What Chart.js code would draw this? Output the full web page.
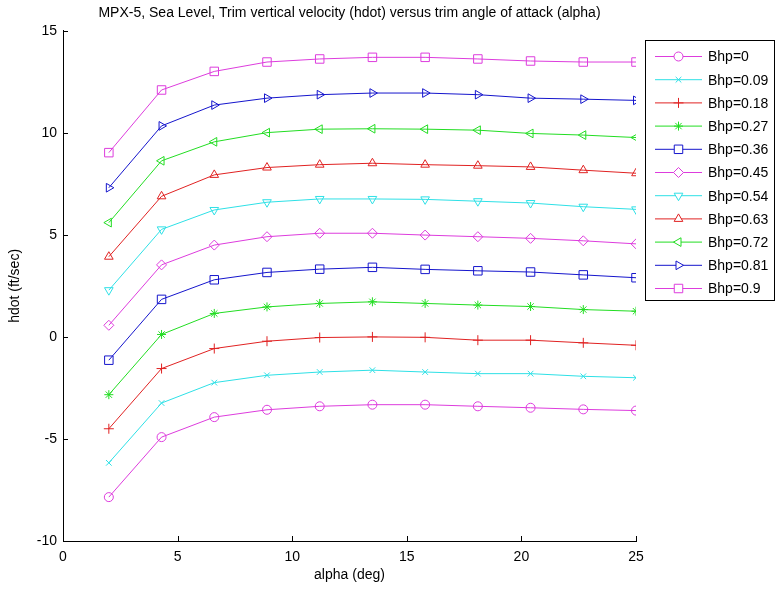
<!DOCTYPE html>
<html>
<head>
<meta charset="utf-8">
<script src="https://cdn.jsdelivr.net/npm/chart.js@4/dist/chart.umd.min.js"></script>
<style>
  html, body { margin: 0; padding: 0; background: #fff; }
  #wrap { width: 776px; height: 592px; }
</style>
</head>
<body>
<div id="wrap"><canvas id="hdotChart" width="776" height="592"></canvas></div>
<script>
// trim angle of attack (deg)
const alpha = [2, 4.3, 6.6, 8.9, 11.2, 13.5, 15.8, 18.1, 20.4, 22.7, 25];

const bhpLabels = ['Bhp=0', 'Bhp=0.09', 'Bhp=0.18', 'Bhp=0.27', 'Bhp=0.36', 'Bhp=0.45',
    'Bhp=0.54', 'Bhp=0.63', 'Bhp=0.72', 'Bhp=0.81', 'Bhp=0.9'];

// hdot (ft/sec), one list per power setting
const hdot000 = [-7.85, -4.91, -3.93, -3.57, -3.40, -3.32, -3.32, -3.40, -3.47, -3.55, -3.61];
const hdot009 = [-6.17, -3.24, -2.24, -1.88, -1.72, -1.63, -1.72, -1.80, -1.80, -1.93, -2.00];
const hdot018 = [-4.50, -1.55, -0.57, -0.21, -0.03, 0.00, -0.02, -0.16, -0.16, -0.29, -0.41];
const hdot027 = [-2.83, 0.12, 1.15, 1.47, 1.64, 1.72, 1.64, 1.56, 1.49, 1.34, 1.26];
const hdot036 = [-1.14, 1.84, 2.80, 3.16, 3.32, 3.41, 3.31, 3.24, 3.18, 3.04, 2.90];
const hdot045 = [0.57, 3.53, 4.50, 4.91, 5.08, 5.08, 4.99, 4.91, 4.83, 4.71, 4.56];
const hdot054 = [2.29, 5.27, 6.22, 6.60, 6.76, 6.76, 6.74, 6.65, 6.56, 6.38, 6.25];
const hdot063 = [3.93, 6.89, 7.94, 8.30, 8.44, 8.51, 8.44, 8.39, 8.33, 8.17, 8.02];
const hdot072 = [5.60, 8.63, 9.56, 10.01, 10.18, 10.20, 10.18, 10.13, 9.97, 9.89, 9.77];
const hdot081 = [7.31, 10.34, 11.36, 11.70, 11.87, 11.95, 11.95, 11.87, 11.70, 11.65, 11.59];
const hdot090 = [9.03, 12.10, 13.01, 13.47, 13.62, 13.70, 13.70, 13.62, 13.52, 13.47, 13.47];

const xTicks = [0, 5, 10, 15, 20, 25];
const yTicks = [-10, -5, 0, 5, 10, 15];

const MAG = '#dd3cdd', CYA = '#2ee0e6', RED = '#e02222', GRN = '#22dd22', BLU = '#1515cc';

const seriesStyle = [
    { color: MAG, marker: 'circle', radius: 4.5, rot: 0 },
    { color: CYA, marker: 'crossRot', radius: 4, rot: 0 },
    { color: RED, marker: 'cross', radius: 5, rot: 0 },
    { color: GRN, marker: 'star', radius: 4.5, rot: 0 },
    { color: BLU, marker: 'rect', radius: 6, rot: 0 },
    { color: MAG, marker: 'rectRot', radius: 5, rot: 0 },
    { color: CYA, marker: 'triangle', radius: 5, rot: 180 },
    { color: RED, marker: 'triangle', radius: 5, rot: 0 },
    { color: GRN, marker: 'triangle', radius: 5, rot: -90 },
    { color: BLU, marker: 'triangle', radius: 5, rot: 90 },
    { color: MAG, marker: 'rect', radius: 6, rot: 0 }
];

const allSeries = [hdot000, hdot009, hdot018, hdot027, hdot036, hdot045,
    hdot054, hdot063, hdot072, hdot081, hdot090];

const FONT = '"Liberation Sans", Arial, Helvetica, sans-serif';

const datasets = allSeries.map((vals, i) => ({
    label: bhpLabels[i],
    data: vals.map((v, j) => ({ x: alpha[j], y: v })),
    borderColor: seriesStyle[i].color,
    backgroundColor: 'transparent',
    borderWidth: 1,
    pointStyle: seriesStyle[i].marker,
    pointRotation: seriesStyle[i].rot,
    pointRadius: seriesStyle[i].radius,
    pointBorderWidth: 1,
    pointBorderColor: seriesStyle[i].color,
    pointBackgroundColor: 'transparent',
    tension: 0
}));

// matlab-ish ticks pointing into the plot + boxed legend
const matlabBits = {
    id: 'matlabBits',
    afterDraw(chart) {
        const ctx = chart.ctx;
        const { left, bottom } = chart.chartArea;
        const xs = chart.scales.x, ys = chart.scales.y;
        ctx.save();
        ctx.strokeStyle = '#000';
        ctx.lineWidth = 1;
        ctx.beginPath();
        xTicks.forEach(t => {
            const px = Math.round(xs.getPixelForValue(t)) + 0.5;
            ctx.moveTo(px, bottom);
            ctx.lineTo(px, bottom - 5);
        });
        yTicks.forEach(t => {
            const py = Math.round(ys.getPixelForValue(t)) + 0.5;
            ctx.moveTo(left, py);
            ctx.lineTo(left + 5, py);
        });
        ctx.stroke();

        // legend
        const boxL = 645.5, boxT = 40.5, boxR = 774.5, boxB = 300.5;
        ctx.fillStyle = '#fff';
        ctx.fillRect(boxL, boxT, boxR - boxL, boxB - boxT);
        ctx.strokeStyle = '#000';
        ctx.strokeRect(boxL, boxT, boxR - boxL, boxB - boxT);
        ctx.font = '14px ' + FONT;
        ctx.textBaseline = 'middle';
        ctx.textAlign = 'left';
        chart.data.datasets.forEach((ds, i) => {
            const y = 56.5 + i * 23.2;
            ctx.strokeStyle = ds.borderColor;
            ctx.beginPath();
            ctx.moveTo(655, y);
            ctx.lineTo(702, y);
            ctx.stroke();
            ctx.fillStyle = '#fff';
            Chart.helpers.drawPoint(ctx, {
                pointStyle: ds.pointStyle,
                rotation: ds.pointRotation,
                radius: ds.pointRadius,
                borderWidth: 1
            }, 678.5, y);
            ctx.fillStyle = '#000';
            ctx.fillText(ds.label, 708, y + 1);
        });
        ctx.restore();
    }
};

new Chart(document.getElementById('hdotChart'), {
    type: 'line',
    data: { datasets },
    options: {
        responsive: false,
        animation: false,
        events: [],
        layout: { padding: { top: 0, left: 0, right: 140, bottom: 0 } },
        plugins: {
            legend: { display: false },
            tooltip: { enabled: false },
            title: {
                display: true,
                fullSize: false,
                text: 'MPX-5, Sea Level, Trim vertical velocity (hdot) versus trim angle of attack (alpha)',
                color: '#000',
                font: { family: FONT, size: 14, weight: 'normal' },
                padding: { top: 5, bottom: 9 }
            }
        },
        scales: {
            x: {
                type: 'linear',
                min: 0,
                max: 25,
                afterFit: s => { s.height = 51; },
                afterBuildTicks: s => { s.ticks = xTicks.map(v => ({ value: v })); },
                grid: { display: false, drawTicks: false },
                border: { display: true, color: '#000', width: 1 },
                ticks: { color: '#000', font: { family: FONT, size: 14 }, padding: 8, maxRotation: 0 },
                title: {
                    display: true,
                    text: 'alpha (deg)',
                    color: '#000',
                    font: { family: FONT, size: 14 },
                    padding: { top: 0, bottom: 8 }
                }
            },
            y: {
                min: -10,
                max: 15,
                afterFit: s => { s.width = 63; },
                afterBuildTicks: s => { s.ticks = yTicks.map(v => ({ value: v })); },
                grid: { display: false, drawTicks: false },
                border: { display: true, color: '#000', width: 1 },
                ticks: { color: '#000', font: { family: FONT, size: 14 }, padding: 6 },
                title: {
                    display: true,
                    text: 'hdot (ft/sec)',
                    color: '#000',
                    font: { family: FONT, size: 14 },
                    padding: { top: 7, bottom: 0 }
                }
            }
        }
    },
    plugins: [matlabBits]
});
</script>
</body>
</html>
